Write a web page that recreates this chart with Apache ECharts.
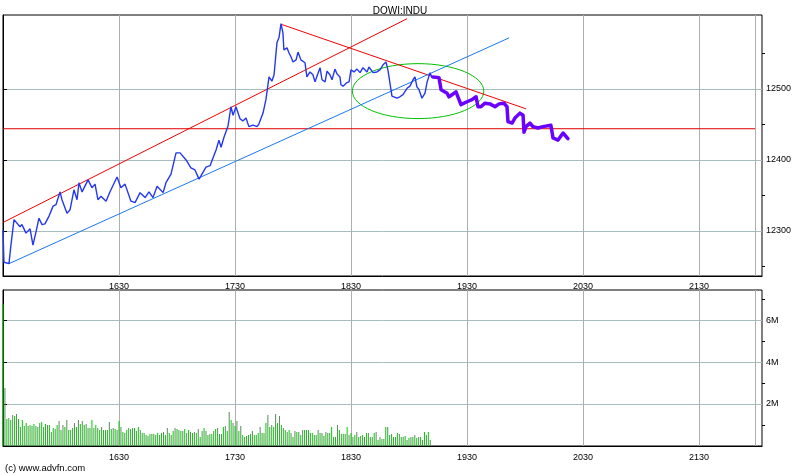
<!DOCTYPE html>
<html>
<head>
<meta charset="utf-8">
<script src="https://cdn.jsdelivr.net/npm/echarts@6/dist/echarts.min.js"></script>
<style>html,body{margin:0;padding:0;background:#fff}#c{width:800px;height:475px}</style>
</head>
<body>
<div id="c"></div>
<script>
// ---------- data ----------
const chartTitle = 'DOWI:INDU';
const copyright = '(c) www.advfn.com';
// x axis: minutes after 15:30
const xTickMinutes = [60, 120, 180, 240, 300, 360];
const xTickLabels = ['1630', '1730', '1830', '1930', '2030', '2130'];
const sessionEndMinute = 389;
const priceTicks = [12300, 12400, 12500];
const priceMinorTicks = [12250, 12350, 12450, 12550];
const volTicks = [2, 4, 6];
const volTickLabels = ['2M', '4M', '6M'];
const volMinorTicks = [1, 3, 5, 7];

// price (minute, value)
const priceMinutes = [0,0.5,3.1,4.1,5.7,8.8,9.8,11.9,14.0,15.0,15.5,17.1,18.6,20.2,21.7,23.8,25.9,27.4,29.5,30.5,33.1,34.7,36.7,38.3,39.3,40.9,44.0,46.0,47.6,49.1,50.7,53.3,55.3,59.0,61.0,63.1,66.2,68.3,70.9,73.5,75.5,77.6,79.7,82.8,84.3,86.9,89.5,91.6,94.7,97.2,99.3,101.4,102.4,105.0,107.1,110.2,111.7,112.8,114.3,116.4,117.9,119.0,120.5,122.6,124.1,125.7,127.2,129.3,131.4,132.4,134.5,136.0,137.6,139.1,140.2,141.7,142.8,143.8,144.8,145.3,146.9,147.9,149.0,150.0,151.6,152.6,154.1,156.2,157.2,158.8,160.3,161.4,162.4,164.0,165.0,166.6,167.6,169.1,170.2,171.7,172.8,174.3,174.8,175.9,177.9,179.0,180.0,181.6,183.1,184.7,186.2,188.3,189.3,191.4,193.4,195.0,196.6,198.1,199.1,201.2,203.8,205.3,206.9,209.0,210.5,212.1,213.1,214.1,215.2,216.7,218.3,219.3,220.9,221.9];
const priceValues = [12301,12256,12254,12280,12316,12306,12309,12297,12303,12303,12280,12299,12318,12309,12310,12321,12335,12337,12355,12344,12325,12330,12358,12344,12368,12355,12372,12361,12366,12344,12349,12342,12355,12376,12361,12366,12342,12340,12354,12347,12355,12347,12363,12354,12368,12380,12410,12410,12400,12389,12386,12373,12375,12390,12392,12414,12428,12418,12432,12448,12475,12463,12475,12458,12455,12459,12447,12449,12447,12451,12466,12485,12517,12511,12520,12565,12573,12592,12579,12555,12558,12551,12545,12538,12541,12552,12541,12537,12517,12524,12520,12510,12518,12530,12513,12510,12525,12520,12513,12528,12521,12517,12506,12504,12509,12510,12527,12524,12528,12523,12530,12524,12531,12523,12524,12527,12534,12538,12527,12490,12487,12489,12492,12501,12504,12513,12517,12503,12499,12487,12494,12509,12523,12516];

// projected path (purple)
const forecastMinutes = [222.4,225.5,226.6,227.6,229.7,230.7,232.8,234.3,235.3,236.9,237.9,240.0,242.6,244.7,245.7,247.2,249.3,251.9,254.5,256.6,259.1,260.7,261.2,263.3,264.8,267.4,269.0,269.5,270.5,272.6,274.1,276.7,279.3,283.4,284.5,287.1,289.7,292.2];
const forecastValues = [12517,12516,12499,12501,12494,12489,12493,12496,12494,12478,12476,12482,12485,12489,12475,12475,12480,12479,12475,12479,12480,12475,12454,12452,12459,12466,12463,12439,12447,12452,12447,12445,12447,12449,12431,12428,12438,12430];

// volume per minute, millions
const volumes = [
6.76,2.76,1.29,1.33,1.24,1.48,1.43,1.52,1.29,0.90,
1.24,0.95,1.10,0.95,1.00,0.95,1.05,0.95,0.90,1.10,
1.14,0.90,1.05,1.00,1.00,0.67,0.86,0.81,1.00,1.19,
0.76,1.00,0.90,1.24,0.76,0.76,0.86,1.10,0.90,1.24,
1.05,1.19,1.00,1.05,0.86,0.86,1.24,0.86,1.00,0.86,
0.76,0.90,0.76,0.76,0.76,1.14,0.81,0.86,0.81,0.76,
1.19,0.90,0.67,0.62,0.76,0.86,0.81,0.86,0.86,0.71,
0.90,0.76,0.62,0.62,0.52,0.48,
0.57,0.57,0.57,0.52,0.62,0.52,0.62,0.67,0.52,0.86,
0.62,0.52,0.71,0.86,0.81,0.76,0.71,0.71,0.81,0.62,
0.76,0.67,0.62,0.67,0.62,0.81,0.43,0.71,0.86,0.71,
0.52,0.57,0.57,0.71,0.81,0.86,0.57,0.57,0.90,0.95,
0.71,1.62,1.24,1.10,0.95,1.19,0.71,0.95,0.52,0.43,
0.48,0.52,0.57,0.71,0.52,0.52,0.62,0.90,0.62,0.62,
1.10,1.48,0.90,1.00,0.90,1.52,1.10,1.43,1.00,0.86,
0.76,0.67,0.76,0.62,0.43,0.71,
0.67,0.67,0.52,0.76,0.76,0.76,0.76,0.62,0.62,0.52,
0.52,0.76,0.62,0.62,0.48,0.67,0.62,0.62,0.90,0.43,
0.43,1.00,0.76,0.57,0.57,0.57,0.90,0.52,0.62,0.43,
0.52,0.67,0.43,0.48,0.52,0.43,0.62,0.62,0.43,0.43,
0.62,0.67,0.29,0.43,0.33,0.33,0.90,0.90,0.52,0.57,
0.43,0.43,0.62,0.57,0.43,0.43,0.48,0.29,0.38,0.43,
0.43,0.52,0.38,0.43,0.43,0.29,0.67,0.52,0.67,0.29];

// trend annotations (minute, price)
const redUpLine = [[0, 12312], [209, 12599]];
const redDownLine = [[144, 12591], [270.6, 12472]];
const blueChannel = [[3.1, 12254], [261.8, 12572]];
const supportLevel = 12444;
const ellipse = [214.7, 12497, 34, 38.7]; // centre minute, centre price, radius minutes, radius price

// ---------- chart ----------
const FONT = 'Liberation Sans, Arial, sans-serif';
const pair = (xs, ys) => xs.map((x, i) => [x, ys[i]]);
const chart = echarts.init(document.getElementById('c'), null, {renderer: 'canvas'});

const hGrid = '#a8bebe', vGrid = '#aeaeae';
function xAxisDef(gi) {
  return {
    type: 'value', gridIndex: gi, min: 0, max: 392.6,
    axisLine: {show: true, lineStyle: {color: '#000', width: 1}},
    axisTick: {show: false, customValues: xTickMinutes},
    axisLabel: {customValues: xTickMinutes, color: '#000', fontSize: 9, fontFamily: FONT, margin: gi === 0 ? 6 : 7,
      formatter: v => { const k = xTickMinutes.indexOf(v); return k >= 0 ? xTickLabels[k] : ''; }},
    splitLine: {show: true, lineStyle: {color: vGrid, width: 1}}
  };
}
function yMain(gi, min, max, ticks, fmt) {
  return {
    type: 'value', gridIndex: gi, position: 'right', min: min, max: max,
    axisLine: {show: true, lineStyle: {color: '#000', width: 1}},
    axisTick: {show: true, customValues: ticks, length: 4, lineStyle: {color: '#000'}},
    axisLabel: {customValues: ticks, color: '#000', fontSize: 9, fontFamily: FONT, margin: 4, formatter: fmt},
    splitLine: {show: true, lineStyle: {color: hGrid, width: 1}}
  };
}
function yMinor(gi, min, max, ticks) {
  return {
    type: 'value', gridIndex: gi, position: 'right', min: min, max: max,
    axisLine: {show: false},
    axisTick: {show: true, customValues: ticks, length: 3, lineStyle: {color: '#000'}},
    axisLabel: {show: false, customValues: ticks},
    splitLine: {show: false}
  };
}
const vLineMark = {
  silent: true, symbol: 'none', label: {show: false},
  lineStyle: {color: vGrid, type: 'solid', width: 1},
  data: [{xAxis: sessionEndMinute}]
};
function segment(data, color, extra) {
  return Object.assign({
    type: 'line', xAxisIndex: 0, yAxisIndex: 0, data: data, showSymbol: false, silent: true,
    lineStyle: {color: color, width: 1}, z: 3
  }, extra || {});
}

const option = {
  animation: false,
  backgroundColor: '#fff',
  title: {text: chartTitle, left: 'center', top: 1,
    textStyle: {fontSize: 10, fontWeight: 'normal', color: '#000', fontFamily: FONT}},
  graphic: [{type: 'text', left: 5, top: 463,
    style: {text: copyright, fill: '#000', font: '9.5px ' + FONT}}],
  grid: [
    {left: 3, right: 38, top: 15, height: 261, show: true, borderColor: '#000', borderWidth: 1},
    {left: 3, right: 38, top: 290, height: 156, show: true, borderColor: '#000', borderWidth: 1}
  ],
  xAxis: [xAxisDef(0), xAxisDef(1)],
  yAxis: [
    yMain(0, 12236.6, 12604.2, priceTicks, v => String(v)),
    yMinor(0, 12236.6, 12604.2, priceMinorTicks),
    yMain(1, 0, 7.43, volTicks, v => { const k = volTicks.indexOf(v); return k >= 0 ? volTickLabels[k] : ''; }),
    yMinor(1, 0, 7.43, volMinorTicks)
  ],
  series: [
    segment([[0, supportLevel], [sessionEndMinute, supportLevel]], '#e00000', {markLine: vLineMark, z: 2}),
    segment(redUpLine, '#f00000'),
    segment(redDownLine, '#f00000'),
    segment(blueChannel, '#1a78f2'),
    {
      type: 'custom', xAxisIndex: 0, yAxisIndex: 0, silent: true, z: 3,
      data: [ellipse],
      renderItem: (params, api) => {
        const c = api.coord([api.value(0), api.value(1)]);
        const s = api.size([api.value(2), api.value(3)]);
        return {type: 'ellipse', shape: {cx: c[0], cy: c[1], rx: s[0], ry: s[1]},
          style: {fill: null, stroke: '#00c000', lineWidth: 1}};
      }
    },
    segment(pair(priceMinutes, priceValues), '#2438f0', {lineStyle: {color: '#2438f0', width: 1.4}, z: 4}),
    segment(pair(forecastMinutes, forecastValues), '#6a00ff', {lineStyle: {color: '#6a00ff', width: 3.5, join: 'round', cap: 'round'}, z: 5}),
    {
      type: 'bar', xAxisIndex: 1, yAxisIndex: 2, barWidth: 1, silent: true,
      data: volumes.map((v, i) => [i, v]),
      itemStyle: {color: p => (p.dataIndex % 2 === 0 ? '#00cc00' : '#5a8c5a')},
      markLine: vLineMark
    }
  ]
};
chart.setOption(option);
</script>
</body>
</html>
